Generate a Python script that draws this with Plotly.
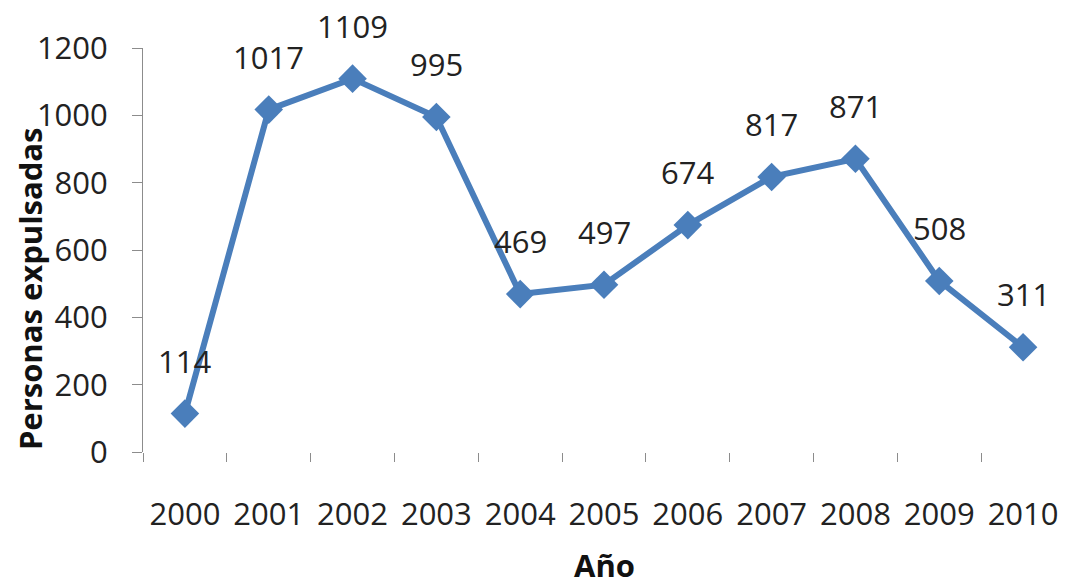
import plotly.graph_objects as go

years = [2000, 2001, 2002, 2003, 2004, 2005, 2006, 2007, 2008, 2009, 2010]
expelled = [114, 1017, 1109, 995, 469, 497, 674, 817, 871, 508, 311]

y_ticks = [0, 200, 400, 600, 800, 1000, 1200]

blue = "#4A7EBB"
font = "Open Sans"

fig = go.Figure()
fig.add_trace(go.Scatter(
    x=years, y=expelled,
    mode="lines+markers",
    line=dict(color=blue, width=6),
    marker=dict(symbol="diamond", size=22, color=blue),
    cliponaxis=False,
    showlegend=False,
))

# value labels sit well above each point, like the Excel original
for yr, v in zip(years, expelled):
    fig.add_annotation(x=yr, y=v, text=str(v), showarrow=False,
                       yshift=53, font=dict(family=font, size=31, color="#222"))

fig.add_annotation(text="<b>Personas expulsadas</b>", textangle=-90,
                   xref="paper", yref="paper", x=-0.123, y=0.0,
                   xanchor="center", yanchor="bottom", showarrow=False,
                   font=dict(family=font, size=31, color="#111"))
fig.add_annotation(text="<b>Año</b>", xref="paper", yref="paper",
                   x=0.5, y=-0.28, xanchor="center", yanchor="middle",
                   showarrow=False, font=dict(family=font, size=31, color="#111"))

# ticks between the years (category boundaries), labels at the years
fig.update_xaxes(range=[years[0] - 0.5, years[-1] + 0.5], tickvals=years,
                 ticks="", showline=False, showgrid=False, zeroline=False,
                 ticklabelstandoff=41, automargin=False,
                 minor=dict(tick0=years[0] - 0.5, dtick=1, ticks="outside",
                            ticklen=9, tickcolor="#8c8c8c", showgrid=False),
                 tickfont=dict(family=font, size=31, color="#222"))
fig.update_yaxes(range=[0, 1200], tickvals=y_ticks, showline=True,
                 linecolor="#8c8c8c", linewidth=1, ticks="outside",
                 ticklen=10, tickcolor="#8c8c8c", showgrid=False,
                 zeroline=False, ticklabelstandoff=18, automargin=False,
                 tickfont=dict(family=font, size=31, color="#222"))

# the page body adds an 8px offset at top/left, so the figure is 8px smaller
fig.update_layout(width=1058, height=574,
                  margin=dict(l=135, r=1, t=40, b=130),
                  plot_bgcolor="white", paper_bgcolor="white")

fig.write_html("out.html")
